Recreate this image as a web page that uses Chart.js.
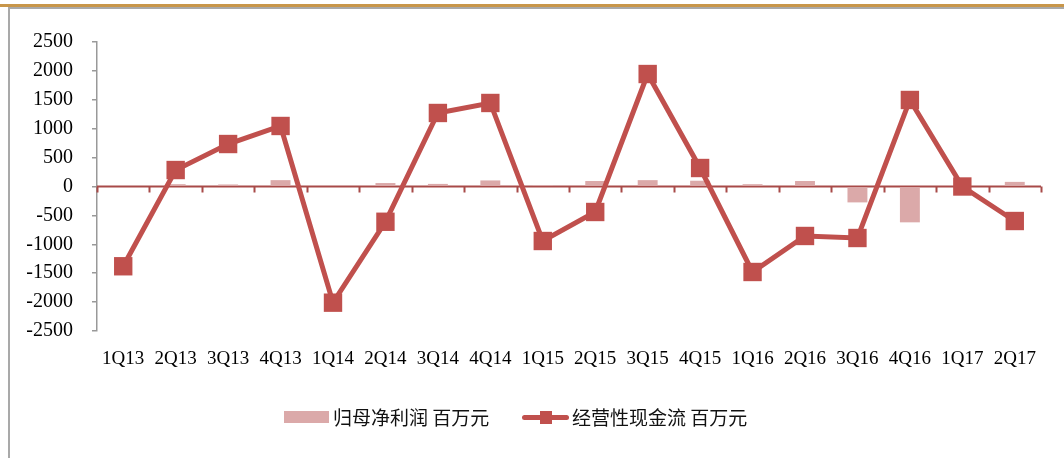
<!DOCTYPE html>
<html>
<head>
<meta charset="utf-8">
<script src="https://cdn.jsdelivr.net/npm/chart.js@4"></script>
<style>
  html, body { margin: 0; padding: 0; background: #fff; }
  #wrap { position: relative; width: 1064px; height: 458px; overflow: hidden; }
  #topbar { position: absolute; left: 0; top: 4px; width: 1064px; height: 3px; background: #c8964a; }
  #topline { position: absolute; left: 8px; top: 7px; width: 1056px; height: 2px; background: #a9a9a9; }
  #leftline { position: absolute; left: 8px; top: 7px; width: 2px; height: 451px; background: #a9a9a9; }
  #chartBox { position: absolute; left: 0; top: 0; width: 1064px; height: 458px; }
  .legend { position: absolute; top: 404px; font-family: "Noto Sans CJK SC", sans-serif; font-size: 19px; color: #111; line-height: 26px; white-space: nowrap; }
  .swatch { position: absolute; }
</style>
</head>
<body>
<div id="wrap">
  <div id="chartBox"><canvas id="cashChart"></canvas></div>
  <div id="topbar"></div>
  <div id="topline"></div>
  <div id="leftline"></div>
  <div class="swatch" style="left:284px;top:411px;width:45px;height:12px;background:#dba9a9;"></div>
  <div class="legend" style="left:333px;">归母净利润 百万元</div>
  <div class="swatch" style="left:522px;top:415px;width:47px;height:5px;background:#c0504d;border-radius:3px;"></div>
  <div class="swatch" style="left:540px;top:411px;width:12px;height:13px;background:#c0504d;"></div>
  <div class="legend" style="left:572px;">经营性现金流 百万元</div>
</div>
<script>
// Data
const quarters = ['1Q13', '2Q13', '3Q13', '4Q13', '1Q14', '2Q14', '3Q14', '4Q14', '1Q15', '2Q15', '3Q15', '4Q15', '1Q16', '2Q16', '3Q16', '4Q16', '1Q17', '2Q17'];
const netProfit = [0, 40, 35, 110, 0, 60, 45, 105, 25, 95, 110, 100, 40, 95, -275, -620, 20, 80];
const operatingCash = [-1380, 285, 735, 1047, -2010, -610, 1272, 1445, -943, -441, 1946, 320, -1479, -856, -891, 1497, 0, -597];
const yTicks = [-2500, -2000, -1500, -1000, -500, 0, 500, 1000, 1500, 2000, 2500];

const lineColor = '#c0504d';
const barColor = '#dba9a9';

// zero axis with tick marks between categories
const zeroAxis = {
    id: 'zeroAxis',
    beforeDatasetsDraw(chart) {
        const { ctx, chartArea, scales } = chart;
        const y0 = scales.y.getPixelForValue(0);
        const step = (scales.x.getPixelForValue(1) - scales.x.getPixelForValue(0));
        ctx.save();
        ctx.strokeStyle = '#a84a48';
        ctx.lineWidth = 2;
        ctx.beginPath();
        ctx.moveTo(chartArea.left, y0);
        ctx.lineTo(chartArea.right, y0);
        for (let i = 0; i <= quarters.length; i++) {
            const x = Math.round(scales.x.getPixelForValue(i) - step / 2) + 0.5;
            ctx.moveTo(x, y0);
            ctx.lineTo(x, y0 + 6);
        }
        ctx.stroke();
        ctx.restore();
    }
};

const ctx = document.getElementById('cashChart').getContext('2d');
new Chart(ctx, {
    data: {
        labels: quarters,
        datasets: [{
            type: 'line',
            label: '经营性现金流 百万元',
            data: operatingCash,
            borderColor: lineColor,
            backgroundColor: lineColor,
            borderWidth: 5,
            tension: 0,
            pointStyle: 'rect',
            pointRadius: 13,
            pointHoverRadius: 13,
            pointBorderWidth: 0,
            pointBackgroundColor: lineColor,
            order: 0
        }, {
            type: 'bar',
            label: '归母净利润 百万元',
            data: netProfit,
            backgroundColor: barColor,
            categoryPercentage: 1,
            barPercentage: 0.38,
            order: 1
        }]
    },
    options: {
        responsive: true,
        maintainAspectRatio: false,
        animation: false,
        layout: {
            padding: { top: 42, left: 10, right: 23, bottom: 90 }
        },
        plugins: {
            legend: { display: false },
            tooltip: { enabled: false }
        },
        scales: {
            x: {
                grid: { display: false },
                border: { display: false },
                ticks: {
                    color: '#000',
                    padding: 9,
                    maxRotation: 0,
                    autoSkip: false,
                    font: { family: 'Liberation Serif', size: 19 }
                },
                afterFit(scale) { scale.height = 37; }
            },
            y: {
                min: -2500,
                max: 2500,
                afterBuildTicks(scale) {
                    scale.ticks = yTicks.map(v => ({ value: v }));
                },
                grid: {
                    drawOnChartArea: false,
                    drawTicks: true,
                    tickLength: 5,
                    color: '#999',
                    lineWidth: 1.5
                },
                border: { color: '#999', width: 1.5 },
                ticks: {
                    color: '#000',
                    padding: 19,
                    font: { family: 'Liberation Serif', size: 20 },
                    callback: value => String(value)
                },
                afterFit(scale) { scale.width = 87; }
            }
        }
    },
    plugins: [zeroAxis]
});
</script>
</body>
</html>
